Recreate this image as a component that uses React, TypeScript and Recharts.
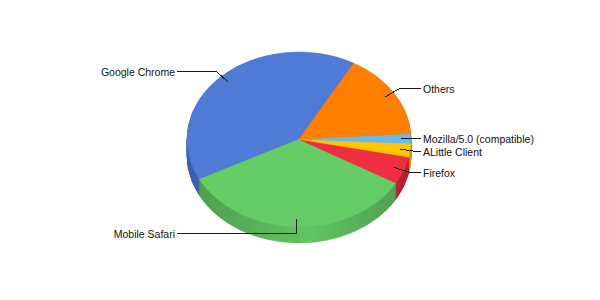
import React from 'react';
import { PieChart, Pie, Cell } from 'recharts';

// Browser share
const browsers = [
  'Google Chrome',
  'Mobile Safari',
  'Firefox',
  'ALittle Client',
  'Mozilla/5.0 (compatible)',
  'Others',
];
const shares = [40.7, 34.1, 5.1, 2.5, 1.8, 15.8];

// Face colours and the darker shades used for the rim
const topColors = ['#4F7BD6', '#66CC66', '#EF2E44', '#FFC600', '#66BBEE', '#FF7F00'];
const sideDark = ['#3A5CB0', '#4C9C4C', '#B51F2E', '#C99300', '#4A94C2', '#C86000'];
const sideLight = ['#4A72CC', '#62C462', '#D62A3C', '#EBB600', '#5CAEE0', '#EC7400'];

const data = browsers.map((name, i) => ({ name, value: shares[i] }));

const W = 600;
const H = 300;
const CX = 299;
const CY = 139.3;
const R = 112;
const TILT = 87.3 / 112; // vertical squash of the pie disc
const DEPTH = 16; // rim thickness in screen pixels
const START = 60.7;
const RAD = Math.PI / 180;
const ELBOW = 7; // leader elbow distance beyond the rim

// Chart-space values for the squashed layer
const SCALED_H = Math.ceil(H / TILT);
const SCALED_CY = CY / TILT;
const LAYERS = Math.round(DEPTH / TILT);
const layerOffsets = Array.from({ length: LAYERS }, (_, i) => LAYERS - i);

const FONT = '"Liberation Sans", Arial, sans-serif';

function renderLabel(p: any) {
  const { cx, cy, midAngle, outerRadius, name } = p;
  const rx = outerRadius;
  const ry = outerRadius * TILT;
  const c = Math.cos(midAngle * RAD);
  const s = Math.sin(midAngle * RAD);
  const x0 = cx + rx * c * 0.91;
  const y0 = cy - ry * s * 0.91;
  const x1 = cx + rx * c + ELBOW * c;
  const y1 = Math.floor(cy - ry * s - ELBOW * s) + 0.5;
  const right = c >= 0;
  const x2 = right ? cx + rx + 10 : cx - rx - 10;
  const tx = right ? cx + rx + 12 : cx - rx - 12;
  return (
    <g>
      <polyline
        points={`${x0},${y0} ${x1},${y1} ${x2},${y1}`}
        fill="none"
        stroke="#1a1a1a"
        strokeWidth={1}
        shapeRendering="crispEdges"
      />
      <text
        x={tx}
        y={y1}
        textAnchor={right ? 'start' : 'end'}
        dominantBaseline="central"
        fontFamily={FONT}
        fontSize={10.5}
        fill="#111"
      >
        {name}
      </text>
    </g>
  );
}

export default function App() {
  return (
    <div style={{ position: 'absolute', left: 0, top: 0, width: W, height: H, background: '#fff', overflow: 'hidden' }}>
      {/* squashed disc: rim layers then the top face */}
      <div
        style={{
          position: 'absolute',
          left: 0,
          top: 0,
          width: W,
          height: SCALED_H,
          transform: `scaleY(${TILT})`,
          transformOrigin: '0 0',
        }}
      >
        <PieChart width={W} height={SCALED_H} margin={{ top: 0, right: 0, bottom: 0, left: 0 }}>
          <defs>
            {browsers.map((_, i) => (
              <linearGradient
                key={`g${i}`}
                id={`rim${i}`}
                gradientUnits="userSpaceOnUse"
                x1={CX - R}
                y1={0}
                x2={CX + R}
                y2={0}
              >
                <stop offset="0%" stopColor={sideDark[i]} />
                <stop offset="55%" stopColor={sideLight[i]} />
                <stop offset="100%" stopColor={sideDark[i]} />
              </linearGradient>
            ))}
          </defs>
          {layerOffsets.map((k) => (
            <Pie
              key={`rim-${k}`}
              data={data}
              dataKey="value"
              nameKey="name"
              cx={CX}
              cy={SCALED_CY + k}
              outerRadius={R}
              startAngle={START}
              endAngle={START + 360}
              isAnimationActive={false}
              labelLine={false}
              stroke="none"
            >
              {data.map((_, i) => (
                <Cell key={i} fill={`url(#rim${i})`} stroke={`url(#rim${i})`} strokeWidth={0.6} />
              ))}
            </Pie>
          ))}
          <Pie
            data={data}
            dataKey="value"
            nameKey="name"
            cx={CX}
            cy={SCALED_CY}
            outerRadius={R}
            startAngle={START}
            endAngle={START + 360}
            isAnimationActive={false}
            labelLine={false}
          >
            {data.map((_, i) => (
              <Cell key={i} fill={topColors[i]} stroke={topColors[i]} strokeWidth={0.6} />
            ))}
          </Pie>
        </PieChart>
      </div>
      {/* unsquashed layer carrying the leader lines and names */}
      <div style={{ position: 'absolute', left: 0, top: 0, width: W, height: H }}>
        <PieChart width={W} height={H} margin={{ top: 0, right: 0, bottom: 0, left: 0 }}>
          <Pie
            data={data}
            dataKey="value"
            nameKey="name"
            cx={CX}
            cy={CY}
            outerRadius={R}
            startAngle={START}
            endAngle={START + 360}
            isAnimationActive={false}
            fill="none"
            stroke="none"
            labelLine={false}
            label={renderLabel}
          />
        </PieChart>
      </div>
    </div>
  );
}
